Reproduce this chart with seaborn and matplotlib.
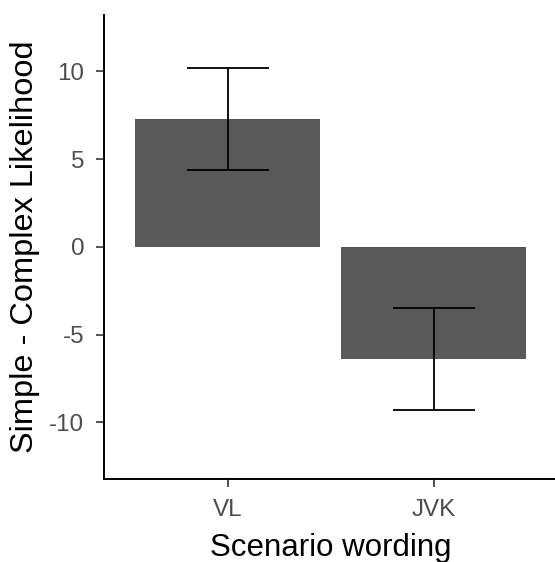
import matplotlib
matplotlib.use("Agg")
import matplotlib.pyplot as plt
import seaborn as sns
import pandas as pd
import numpy as np

# Data
categories = ["VL", "JVK"]
means = [7.3, -6.4]
ci_low = [4.4, -9.3]
ci_high = [10.2, -3.5]
yticks = [-10, -5, 0, 5, 10]

sns.set_theme(style="ticks")
plt.rcParams['font.family'] = ['Liberation Sans', 'DejaVu Sans']

df = pd.DataFrame({"Scenario wording": categories, "diff": means})

fig = plt.figure(figsize=(5.55, 5.62), dpi=100)
ax = fig.add_axes([104.3/555, 83.3/562, (557-104.3)/555, 463.7/562])

sns.barplot(data=df, x="Scenario wording", y="diff", order=categories,
            color="#595959", saturation=1, width=0.9, errorbar=None,
            edgecolor="none", linewidth=0, ax=ax)

m = np.array(means)
lo = m - np.array(ci_low)
hi = np.array(ci_high) - m
ax.errorbar(x=np.arange(len(categories)), y=m, yerr=[lo, hi], fmt="none",
            ecolor="black", elinewidth=1.3, capsize=29.5, capthick=1.3, zorder=5)

ax.set_xlim(-0.6, 1.6)
ax.set_ylim(-13.2, 13.2)
ax.set_yticks(yticks)
ax.set_yticklabels([str(t) for t in yticks])

for s in ["top", "right"]:
    ax.spines[s].set_visible(False)
for s in ["left", "bottom"]:
    ax.spines[s].set_color("black")
    ax.spines[s].set_linewidth(1.4)

ax.tick_params(axis="both", colors="#333333", labelcolor="#4D4D4D",
               labelsize=17.4, length=6, width=1.2)
ax.tick_params(axis="y", pad=8.5)
ax.tick_params(axis="x", pad=8.6)

ax.set_xlabel("Scenario wording", fontsize=22.5, color="black", labelpad=8.5)
ax.set_ylabel("Simple - Complex Likelihood", fontsize=23.4, color="black", labelpad=6.5)

fig.savefig("out.png", dpi=100)
